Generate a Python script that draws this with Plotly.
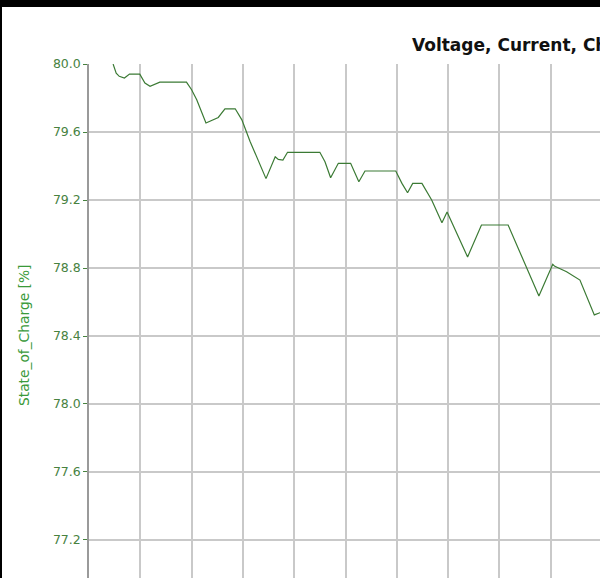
import plotly.graph_objects as go

# time axis (s) and state of charge (%)
time_s = [4.7, 5.3, 5.9, 6.9, 7.9, 9.9, 10.9, 11.9, 13.8, 19.0, 20.0, 21.0,
          22.8, 25.2, 26.5, 28.5, 29.8, 31.4, 34.5, 36.3, 36.9, 37.8, 38.7,
          45.0, 46.0, 47.1, 48.6, 51.0, 52.6, 53.8, 59.8, 61.0, 62.1, 63.1,
          64.9, 66.8, 68.8, 69.8, 73.8, 76.5, 81.7, 87.7, 90.4, 90.8, 93.1,
          95.7, 98.5, 99.6, 101.0]
soc = [80.0, 79.947, 79.928, 79.918, 79.941, 79.941, 79.888, 79.869, 79.894,
       79.894, 79.849, 79.790, 79.653, 79.686, 79.737, 79.737, 79.672, 79.545,
       79.326, 79.455, 79.439, 79.435, 79.481, 79.481, 79.425, 79.331, 79.416,
       79.416, 79.308, 79.371, 79.371, 79.298, 79.243, 79.298, 79.298, 79.200,
       79.066, 79.129, 78.865, 79.053, 79.053, 78.635, 78.822, 78.810, 78.778,
       78.729, 78.524, 78.537, 78.54]

y_ticks = [77.2, 77.6, 78.0, 78.4, 78.8, 79.2, 79.6, 80.0]

W, H = 600, 578
L, T = 89, 64
pw, ph = W - L, H - T


def px_x(p):
    return (p - L) / pw


def px_y(p):
    return (H - p) / ph


fig = go.Figure()
fig.add_trace(go.Scatter(x=time_s, y=soc, mode='lines',
                         line=dict(color='#3b7a34', width=1.2),
                         showlegend=False))

fig.update_layout(
    width=W, height=H,
    margin=dict(l=L, r=0, t=T, b=0),
    paper_bgcolor='white', plot_bgcolor='white',
    font=dict(family='DejaVu Sans'),
    xaxis=dict(range=[0, 99.61], dtick=10, tick0=0, showticklabels=False,
               showgrid=True, gridcolor='#c9c9c9', gridwidth=1.5,
               zeroline=False, showline=False, ticks=''),
    yaxis=dict(range=[76.976, 80.0005], tickvals=y_ticks,
               ticktext=[f'{v:.1f}' for v in y_ticks],
               tickfont=dict(size=12.5, color='#47823f'),
               ticks='outside', ticklen=4, tickcolor='#47823f',
               showgrid=True, gridcolor='#c9c9c9', gridwidth=1.5,
               zeroline=False, showline=True, linecolor='#9a9a9a',
               linewidth=1.5),
)

# y axis title
fig.add_annotation(text='State_of_Charge [%]', textangle=-90,
                   xref='paper', yref='paper', x=px_x(24), y=px_y(336),
                   xanchor='center', yanchor='middle',
                   showarrow=False, font=dict(size=13.8, color='#3a9a3a'))

# chart title (cut off at the right edge, as in the screenshot)
fig.add_annotation(text='<b>Voltage, Current, Charge and Temperature</b>',
                   xref='paper', yref='paper', x=px_x(410), y=px_y(45),
                   xanchor='left', yanchor='middle', showarrow=False,
                   font=dict(size=17, color='#111111'))

# black screenshot border at top and left
fig.add_shape(type='rect', xref='paper', yref='paper', layer='above',
              x0=px_x(-5), x1=px_x(W + 5), y0=px_y(7), y1=px_y(-5),
              fillcolor='black', line_width=0)
fig.add_shape(type='rect', xref='paper', yref='paper', layer='above',
              x0=px_x(-5), x1=px_x(2), y0=px_y(H + 5), y1=px_y(6),
              fillcolor='black', line_width=0)

# page has a default 8px body margin; drop it so the figure sits at 0,0
fig.write_html("out.html", config={'displayModeBar': False},
               post_script="document.body.style.margin='0';")
